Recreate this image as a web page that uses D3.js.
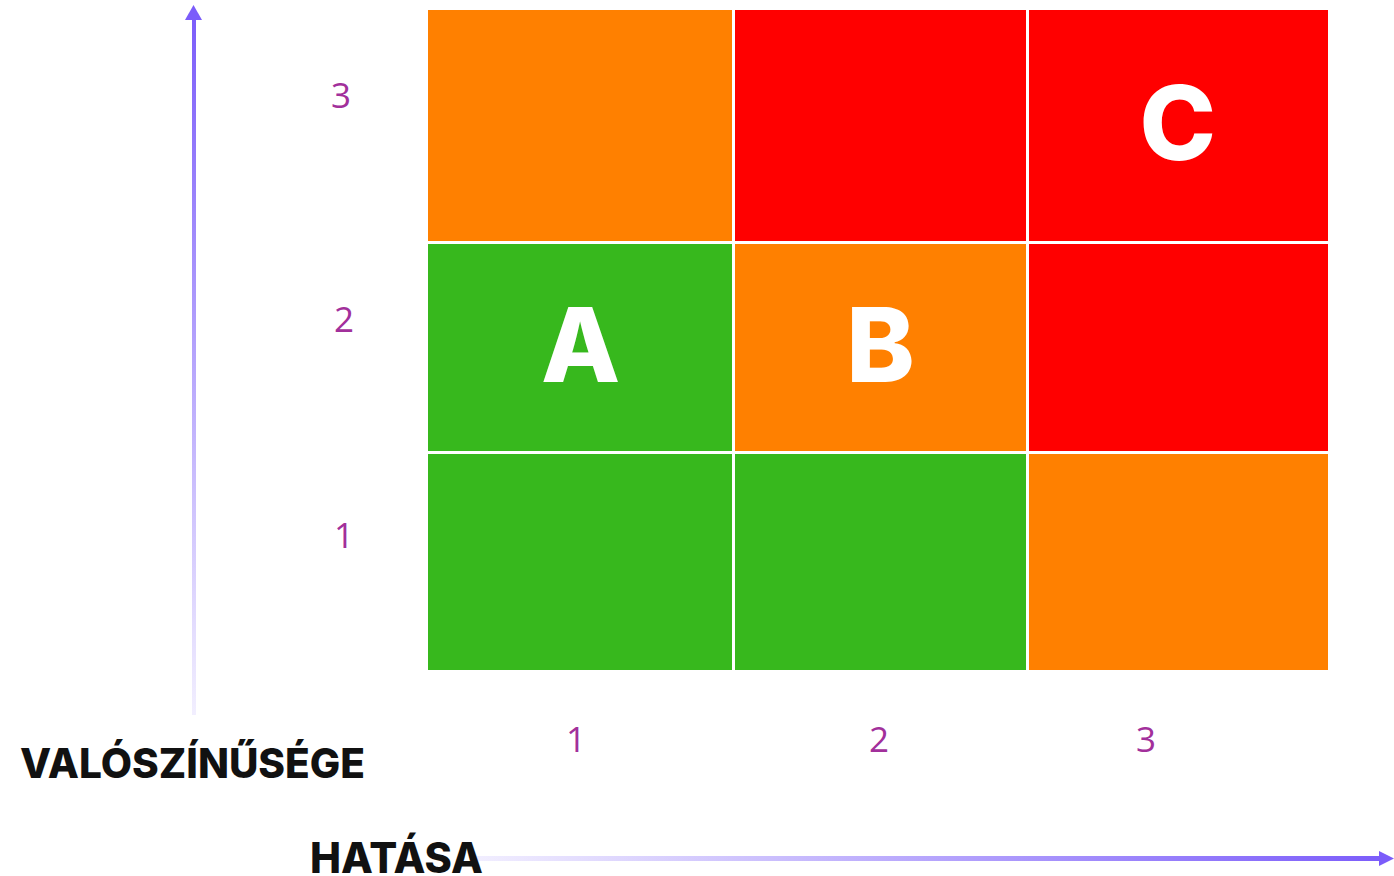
<!DOCTYPE html>
<html>
<head>
<meta charset="utf-8">
<script src="https://cdn.jsdelivr.net/npm/d3@7"></script>
<style>
  html, body { margin: 0; padding: 0; background: #fff; }
  svg { display: block; }
</style>
</head>
<body>
<div id="chart"></div>
<script>
// impact (x) and probability (y) levels
var impactLevels = [1, 2, 3];
var probLevels = [1, 2, 3];
var xTickLabels = ["1", "2", "3"];
var yTickLabels = ["1", "2", "3"];
// risk level per cell, rows = probability 1..3, cols = impact 1..3
var riskGrid = [
  ["low", "low", "medium"],
  ["low", "medium", "high"],
  ["medium", "high", "high"]
];
// markers placed in cells
var markerNames = ["A", "B", "C"];
var markerImpact = [1, 2, 3];
var markerProb = [2, 2, 3];
var xTitle = "HATÁSA";
var yTitle = "VALÓSZÍNŰSÉGE";

var width = 1394, height = 876;

var riskColor = d3.scaleOrdinal()
  .domain(["low", "medium", "high"])
  .range(["#37b81d", "#ff8000", "#ff0000"]);

// cell edges are not evenly spaced in the original, so piecewise scales
var x = d3.scaleLinear().domain([0.5, 1.5, 2.5, 3.5]).range([428, 733.5, 1027.5, 1328]);
var y = d3.scaleLinear().domain([0.5, 1.5, 2.5, 3.5]).range([670, 452.5, 242.5, 10]);
// tick labels sit slightly off the cell centres
var xTick = d3.scaleLinear().domain([1, 2, 3]).range([576, 879, 1146]);
var yTick = d3.scaleLinear().domain([1, 2, 3]).range([535, 319, 95]);

var svg = d3.select("#chart").append("svg")
  .attr("width", width)
  .attr("height", height);

var defs = svg.append("defs");
var gy = defs.append("linearGradient").attr("id", "gy")
  .attr("gradientUnits", "userSpaceOnUse")
  .attr("x1", 0).attr("y1", 715).attr("x2", 0).attr("y2", 10);
gy.append("stop").attr("offset", 0).attr("stop-color", "#7b5cfa").attr("stop-opacity", 0.1);
gy.append("stop").attr("offset", 1).attr("stop-color", "#7b5cfa").attr("stop-opacity", 1);
var gx = defs.append("linearGradient").attr("id", "gx")
  .attr("gradientUnits", "userSpaceOnUse")
  .attr("x1", 470).attr("y1", 0).attr("x2", 1385).attr("y2", 0);
gx.append("stop").attr("offset", 0).attr("stop-color", "#7b5cfa").attr("stop-opacity", 0.1);
gx.append("stop").attr("offset", 1).attr("stop-color", "#7b5cfa").attr("stop-opacity", 1);

// cells
var cells = [];
probLevels.forEach(function (p, i) {
  impactLevels.forEach(function (im, j) {
    cells.push({ impact: im, prob: p, risk: riskGrid[i][j] });
  });
});
var gap = 1.5;
svg.append("g").selectAll("rect")
  .data(cells)
  .enter()
  .append("rect")
  .attr("x", function (d) { return x(d.impact - 0.5) + (d.impact > 1 ? gap : 0); })
  .attr("y", function (d) { return y(d.prob + 0.5) + (d.prob < 3 ? gap : 0); })
  .attr("width", function (d) {
    return x(d.impact + 0.5) - x(d.impact - 0.5) - (d.impact > 1 ? gap : 0) - (d.impact < 3 ? gap : 0);
  })
  .attr("height", function (d) {
    return y(d.prob - 0.5) - y(d.prob + 0.5) - (d.prob > 1 ? gap : 0) - (d.prob < 3 ? gap : 0);
  })
  .attr("fill", function (d) { return riskColor(d.risk); });

// markers
svg.append("g").selectAll("text")
  .data(markerNames)
  .enter()
  .append("text")
  .attr("x", function (d, i) { return x(markerImpact[i]); })
  .attr("y", function (d, i) { return y(markerProb[i]) + 34; })
  .attr("text-anchor", "middle")
  .attr("font-family", "Inter, sans-serif")
  .attr("font-weight", 800)
  .attr("font-size", 103)
  .attr("fill", "#fff")
  .text(function (d) { return d; });

// tick labels
svg.append("g").selectAll("text")
  .data(impactLevels)
  .enter()
  .append("text")
  .attr("x", function (d) { return xTick(d); })
  .attr("y", 752)
  .attr("text-anchor", "middle")
  .attr("font-family", "'Open Sans', sans-serif")
  .attr("font-size", 35)
  .attr("fill", "#a2309b")
  .text(function (d, i) { return xTickLabels[i]; });

svg.append("g").selectAll("text")
  .data(probLevels)
  .enter()
  .append("text")
  .attr("x", function (d) { return d === 3 ? 341 : 344; })
  .attr("y", function (d) { return yTick(d) + 12.5; })
  .attr("text-anchor", "middle")
  .attr("font-family", "'Open Sans', sans-serif")
  .attr("font-size", 35)
  .attr("fill", "#a2309b")
  .text(function (d, i) { return yTickLabels[i]; });

// y arrow
svg.append("rect")
  .attr("x", 192).attr("y", 18).attr("width", 4).attr("height", 697)
  .attr("fill", "url(#gy)");
svg.append("path")
  .attr("d", "M193.5,5 L202,20 L185,20 Z")
  .attr("fill", "#7b5cfa");

// x arrow
svg.append("rect")
  .attr("x", 470).attr("y", 856).attr("width", 912).attr("height", 5)
  .attr("fill", "url(#gx)");
svg.append("path")
  .attr("d", "M1394,858.5 L1379,851 L1379,866 Z")
  .attr("fill", "#7b5cfa");

// axis titles
svg.append("text")
  .attr("x", 20).attr("y", 778)
  .attr("font-family", "Inter, sans-serif")
  .attr("font-weight", 800)
  .attr("font-size", 41)
  .attr("textLength", 345)
  .attr("lengthAdjust", "spacingAndGlyphs")
  .attr("fill", "#111")
  .text(yTitle);

svg.append("text")
  .attr("x", 310).attr("y", 873)
  .attr("font-family", "Inter, sans-serif")
  .attr("font-weight", 800)
  .attr("font-size", 42)
  .attr("textLength", 173)
  .attr("lengthAdjust", "spacingAndGlyphs")
  .attr("fill", "#111")
  .text(xTitle);
</script>
</body>
</html>
